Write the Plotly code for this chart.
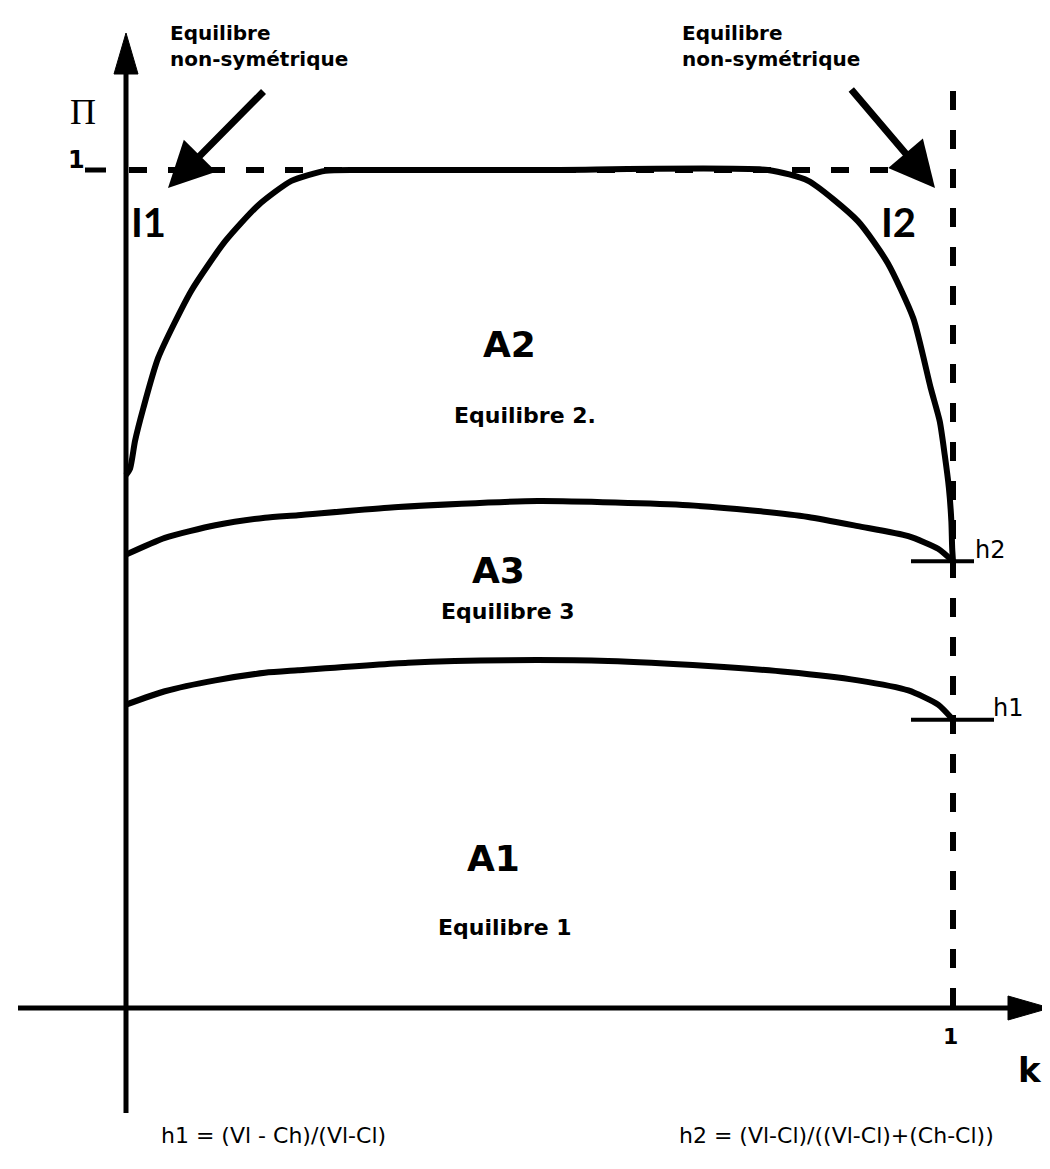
import plotly.graph_objects as go

# frontiere A2 (courbe haute)
k_top = [0, 0.005, 0.011, 0.021, 0.039, 0.079, 0.120, 0.160, 0.200, 0.241, 0.281,
         0.50, 0.776, 0.825, 0.885, 0.921, 0.952, 0.973, 0.984, 0.990, 0.995, 0.998, 0.999, 1.0]
pi_top = [0.636, 0.644, 0.677, 0.716, 0.776, 0.856, 0.915, 0.958, 0.987, 0.999, 1.0,
          1.0, 1.0, 0.987, 0.939, 0.889, 0.823, 0.740, 0.700, 0.660, 0.621, 0.581, 0.549, 0.533]

# frontiere A2 / A3
k_mid = [0, 0.047, 0.108, 0.168, 0.208, 0.317, 0.498, 0.680, 0.764, 0.825, 0.885, 0.946, 0.982, 1.0]
pi_mid = [0.541, 0.561, 0.576, 0.585, 0.588, 0.597, 0.605, 0.600, 0.593, 0.586, 0.575, 0.563, 0.548, 0.533]

# frontiere A3 / A1
k_low = [0, 0.047, 0.108, 0.168, 0.208, 0.341, 0.462, 0.583, 0.704, 0.800, 0.885, 0.946, 0.982, 1.0]
pi_low = [0.362, 0.378, 0.391, 0.400, 0.403, 0.412, 0.415, 0.414, 0.408, 0.401, 0.391, 0.379, 0.362, 0.344]

h1 = 0.344
h2 = 0.533

region_labels = ["A2", "A3", "A1"]
region_subs = ["Equilibre 2.", "Equilibre 3", "Equilibre 1"]

formula_h1 = "h1 = (Vl - Ch)/(Vl-Cl)"
formula_h2 = "h2 = (Vl-Cl)/((Vl-Cl)+(Ch-Cl))"

# page geometry (pixels) -> data units
W, H = 1050, 1169
X0, X1 = 118, 945      # k = 0, k = 1
Y0, Y1 = 1000, 162     # Pi = 0, Pi = 1


def kx(px):
    return (px - X0) / (X1 - X0)


def py(p):
    return (Y0 - p) / (Y0 - Y1)


BLACK = "black"
FONT = "DejaVu Sans"

fig = go.Figure()
for kk, pp in [(k_top, pi_top), (k_mid, pi_mid), (k_low, pi_low)]:
    fig.add_trace(go.Scatter(x=kk, y=pp, mode="lines",
                             line=dict(color=BLACK, width=6, shape="spline", smoothing=0.6),
                             hoverinfo="skip", showlegend=False))

shapes = []
# axes
shapes.append(dict(type="line", x0=0, x1=0, y0=py(1105), y1=py(60),
                   line=dict(color=BLACK, width=5)))
shapes.append(dict(type="line", x0=kx(10), x1=kx(1005), y0=0, y1=0,
                   line=dict(color=BLACK, width=5)))
# arrow heads
shapes.append(dict(type="path", fillcolor=BLACK, line=dict(color=BLACK, width=1),
                   path=f"M {kx(118)},{py(25)} L {kx(106)},{py(66)} L {kx(130)},{py(66)} Z"))
shapes.append(dict(type="path", fillcolor=BLACK, line=dict(color=BLACK, width=1),
                   path=f"M {kx(1042)},{py(1000)} L {kx(1000)},{py(988)} L {kx(1000)},{py(1012)} Z"))
# dashed lines Pi = 1 and k = 1
shapes.append(dict(type="line", x0=kx(121), x1=kx(928), y0=1, y1=1,
                   line=dict(color=BLACK, width=6, dash="18px,21px")))
shapes.append(dict(type="line", x0=1, x1=1, y0=py(83), y1=py(1010),
                   line=dict(color=BLACK, width=6, dash="19px,20px")))
# tick "1_" on Pi axis
shapes.append(dict(type="line", x0=kx(77), x1=kx(98), y0=1, y1=1,
                   line=dict(color=BLACK, width=5)))
# h2 / h1 ticks
shapes.append(dict(type="line", x0=kx(903), x1=kx(966), y0=h2, y1=h2,
                   line=dict(color=BLACK, width=4)))
shapes.append(dict(type="line", x0=kx(903), x1=kx(986), y0=h1, y1=h1,
                   line=dict(color=BLACK, width=4)))

ann = []


def txt(s, px, pyy, size, bold=True, family=FONT, xanchor="center", align="center"):
    ann.append(dict(x=kx(px), y=py(pyy), text=f"<b>{s}</b>" if bold else s,
                    showarrow=False, xanchor=xanchor, yanchor="middle", align=align,
                    font=dict(family=family, size=size, color=BLACK)))


txt("Π", 75, 104, 36, bold=False, family="Liberation Serif")
txt("1", 68, 152, 24)
txt("I1", 140, 214, 40, family="Lato")
txt("I2", 890, 214, 40, family="Lato")
centers = [(501, 336, 517, 407), (490, 562, 500, 603), (485, 850, 497, 919)]
for lab, sub, (ax_, ay_, sx, sy) in zip(region_labels, region_subs, centers):
    txt(lab, ax_, ay_, 36)
    txt(sub, sx, sy, 22)
txt("h2", 982, 542, 24, bold=False)
txt("h1", 1000, 700, 24, bold=False)
txt("1", 942, 1028, 22)
txt("k", 1022, 1062, 34)
txt("Equilibre<br>non-symétrique", 160, 38, 20, xanchor="left", align="left")
txt("Equilibre<br>non-symétrique", 672, 38, 20, xanchor="left", align="left")
txt(formula_h1, 265, 1127, 22, bold=False)
txt(formula_h2, 828, 1127, 22, bold=False)

# arrows "non-symetrique"
for tip, tail in [((160, 180), (257, 82)), ((927, 180), (842, 80))]:
    ann.append(dict(x=kx(tip[0]), y=py(tip[1]), ax=tail[0] - tip[0], ay=tail[1] - tip[1],
                    axref="pixel", ayref="pixel", showarrow=True, arrowhead=2,
                    arrowsize=1.3, arrowwidth=7, arrowcolor=BLACK, text=""))

fig.update_layout(
    width=W, height=H, margin=dict(l=0, r=0, t=0, b=0),
    paper_bgcolor="white", plot_bgcolor="white",
    xaxis=dict(range=[kx(0), kx(W)], visible=False, fixedrange=True),
    yaxis=dict(range=[py(H), py(0)], visible=False, fixedrange=True),
    shapes=shapes, annotations=ann,
)
fig.write_html("out.html")
